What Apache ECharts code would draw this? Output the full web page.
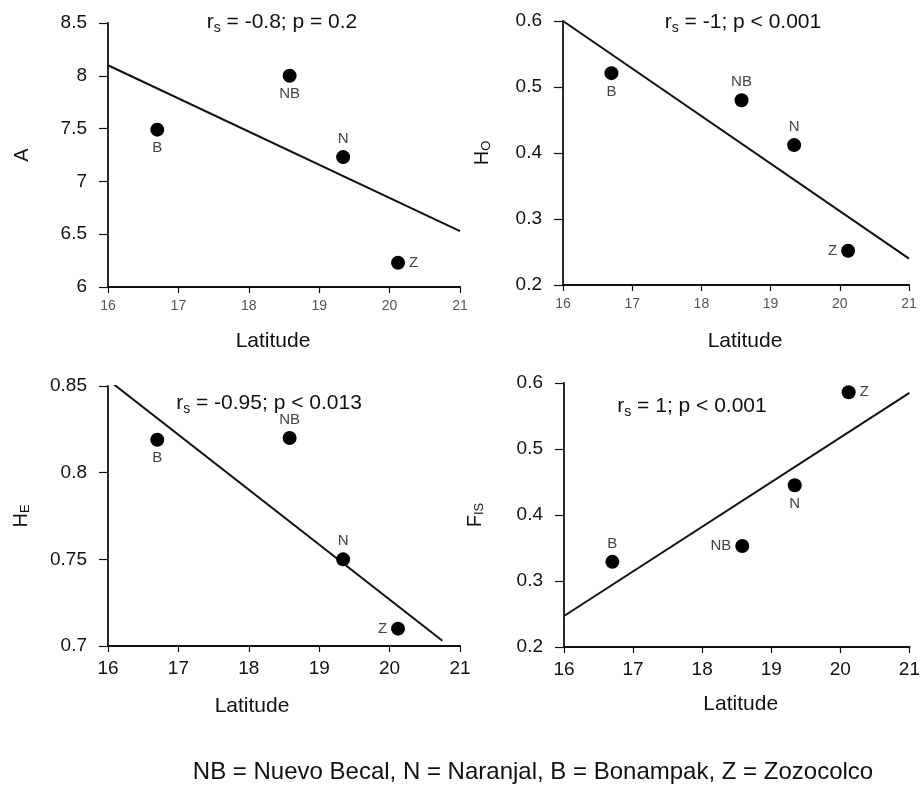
<!DOCTYPE html>
<html>
<head>
<meta charset="utf-8">
<script src="https://cdn.jsdelivr.net/npm/echarts@6/dist/echarts.min.js"></script>
<style>
html,body{margin:0;padding:0;background:#fff;}
#c{width:923px;height:787px;}
</style>
</head>
<body>
<div id="c"></div>
<script>
// ---- data ----
const sites = ['B', 'NB', 'N', 'Z'];
const latitude = [16.70, 18.58, 19.34, 20.12];
const allelesA = [7.49, 8.00, 7.23, 6.23];
const hetObs = [0.521, 0.480, 0.412, 0.252];
const hetExp = [0.819, 0.820, 0.750, 0.710];
const fis = [0.329, 0.353, 0.445, 0.586];
// regression lines (endpoints)
const fitA = [[16, 8.10], [21, 6.53]];
const fitHo = [[16, 0.60], [21, 0.24]];
const fitHe = [[16.05, 0.852], [20.75, 0.703]];
const fitFis = [[16, 0.247], [21, 0.585]];
const xTicks = [16, 17, 18, 19, 20, 21];
const statsText = ['-0.8; p = 0.2', '-1; p < 0.001', '-0.95; p < 0.013', '1; p < 0.001'];
const footer = 'NB = Nuevo Becal, N = Naranjal, B = Bonampak, Z = Zozocolco';

// ---- style/layout ----
const FONT = 'Liberation Sans, Arial, sans-serif';
const grids = [
  {left: 108, top: 23, width: 352, height: 264},
  {left: 563, top: 21, width: 346, height: 264},
  {left: 108, top: 386, width: 352, height: 260},
  {left: 564, top: 383, width: 346, height: 264}
];
const yRanges = [
  {min: 6, max: 8.5, interval: 0.5},
  {min: 0.2, max: 0.6, interval: 0.1},
  {min: 0.7, max: 0.85, interval: 0.05},
  {min: 0.2, max: 0.6, interval: 0.1}
];
const yNames = [
  {main: 'A', sub: ''},
  {main: 'H', sub: 'O'},
  {main: 'H', sub: 'E'},
  {main: 'F', sub: 'IS'}
];
const yNameGaps = [76, 70, 76, 78];
const labelPos = [
  {B: 'bottom', NB: 'bottom', N: 'top', Z: 'right'},
  {B: 'bottom', NB: 'top', N: 'top', Z: 'left'},
  {B: 'bottom', NB: 'top', N: 'top', Z: 'left'},
  {B: 'top', NB: 'left', N: 'bottom', Z: 'right'}
];
const statsPos = [
  {x: 277, y: 5}, {x: 738, y: 5}, {x: 264, y: 386}, {x: 687, y: 389}
];
const xNameGap = [44, 46, 50, 47];
const xNameShift = [-11, 9, -32, 4];
const topRow = [true, true, false, false];

const yValues = [allelesA, hetObs, hetExp, fis];
const fits = [fitA, fitHo, fitHe, fitFis];

const chart = echarts.init(document.getElementById('c'), null, {renderer: 'canvas'});

const xAxis = [], yAxis = [], series = [], title = [];
for (let i = 0; i < 4; i++) {
  const sh = xNameShift[i];
  xAxis.push({
    type: 'value', gridIndex: i, min: xTicks[0], max: xTicks[xTicks.length - 1], interval: 1,
    name: 'Latitude', nameLocation: 'middle', nameGap: xNameGap[i],
    nameTextStyle: {fontFamily: FONT, fontSize: 21, color: '#111',
      padding: sh >= 0 ? [0, 0, 0, 2 * sh] : [0, -2 * sh, 0, 0]},
    splitLine: {show: false},
    axisLine: {lineStyle: {color: '#111', width: 2}},
    axisTick: {length: 6, lineStyle: {color: '#111', width: 1.2}},
    axisLabel: topRow[i]
      ? {fontFamily: FONT, fontSize: 14, color: '#555', margin: 12}
      : {fontFamily: FONT, fontSize: 19, color: '#111', margin: 13}
  });
  yAxis.push({
    type: 'value', gridIndex: i, min: yRanges[i].min, max: yRanges[i].max, interval: yRanges[i].interval,
    name: yNames[i].sub ? '{m|' + yNames[i].main + '}{s|' + yNames[i].sub + '}' : '{m|' + yNames[i].main + '}',
    nameLocation: 'middle', nameGap: yNameGaps[i], nameRotate: 90,
    nameTextStyle: {
      fontFamily: FONT, color: '#111',
      rich: {
        m: {fontFamily: FONT, fontSize: 20, color: '#111'},
        s: {fontFamily: FONT, fontSize: 13, color: '#111', verticalAlign: 'bottom', padding: [9, 0, 0, 0]}
      }
    },
    splitLine: {show: false},
    axisLine: {lineStyle: {color: '#111', width: 1.8}},
    axisTick: {length: 9, lineStyle: {color: '#111', width: 1.2}},
    axisLabel: {fontFamily: FONT, fontSize: 19, color: '#111', margin: 21}
  });
  series.push({
    type: 'line', xAxisIndex: i, yAxisIndex: i, data: fits[i],
    showSymbol: false, symbol: 'none', silent: true, animation: false,
    lineStyle: {color: '#111', width: 2}, z: 2
  });
  series.push({
    type: 'scatter', xAxisIndex: i, yAxisIndex: i, animation: false,
    symbolSize: 14, itemStyle: {color: '#000', opacity: 1}, z: 3,
    data: sites.map((s, k) => ({
      name: s, value: [latitude[k], yValues[i][k]],
      label: {position: labelPos[i][s]}
    })),
    label: {
      show: true, formatter: p => p.name, fontFamily: FONT, fontSize: 15, color: '#444', distance: 4
    }
  });
  title.push({
    text: '{t|r}{s|s}{t| = ' + statsText[i] + '}',
    left: statsPos[i].x, top: statsPos[i].y, textAlign: 'center',
    textStyle: {
      fontWeight: 'normal',
      rich: {
        t: {fontFamily: FONT, fontSize: 21, fontWeight: 'normal', color: '#111'},
        s: {fontFamily: FONT, fontSize: 14, fontWeight: 'normal', color: '#111', verticalAlign: 'bottom', padding: [11, 0, 0, 0]}
      }
    }
  });
}
title.push({
  text: footer, left: 528, top: 755, textAlign: 'center',
  textStyle: {fontFamily: FONT, fontSize: 24, fontWeight: 'normal', color: '#111'}
});

chart.setOption({
  backgroundColor: '#fff',
  animation: false,
  title: title,
  grid: grids,
  xAxis: xAxis,
  yAxis: yAxis,
  series: series
});
</script>
</body>
</html>
